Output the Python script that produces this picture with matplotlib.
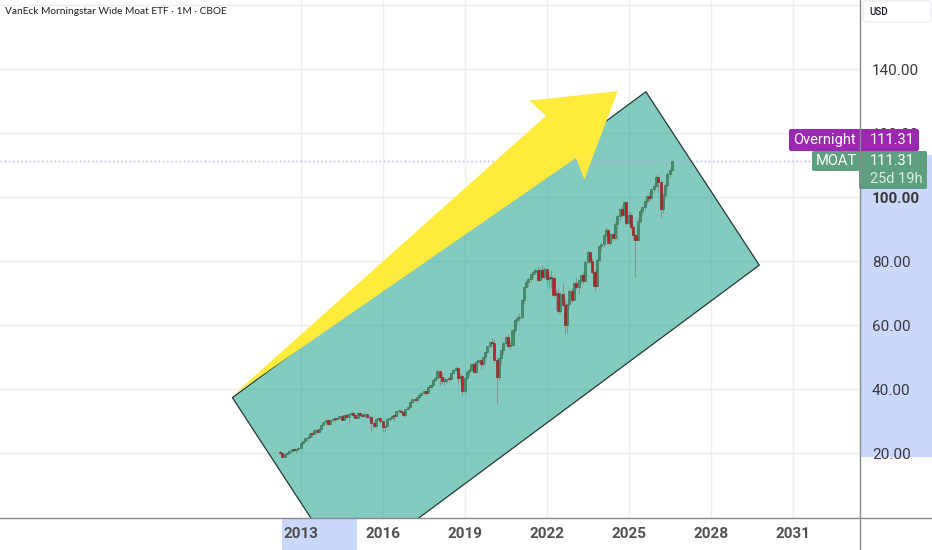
import numpy as np
import pandas as pd
import matplotlib
matplotlib.use("Agg")
import matplotlib.pyplot as plt
from matplotlib.patches import Polygon, Rectangle, FancyBboxPatch
from matplotlib.colors import to_rgba

plt.rcParams['font.family'] = ['Roboto', 'DejaVu Sans']

# monthly candles of MOAT, first bar is April 2012
first_month = "2012-04-01"

opens = [
    20.3, 20.2, 19.0, 19.8, 20.1, 20.7, 21.2, 21.1, 21.3,
    21.7, 23.3, 23.8, 24.7, 25.1, 26.3, 25.9, 27.4, 26.6, 27.7, 28.9, 29.7,
    30.3, 29.3, 30.5, 30.8, 30.7, 31.1, 31.6, 30.5, 31.9, 31.2, 32.2, 32.6,
    32.1, 31.0, 32.7, 31.9, 31.7, 32.2, 31.2, 31.5, 29.5, 28.4, 30.8, 31.0,
    30.0, 28.2, 28.6, 30.7, 31.1, 31.8, 31.6, 33.1, 33.3, 33.0, 31.9, 33.9,
    34.6, 36.0, 36.9, 36.8, 37.6, 38.2, 38.8, 39.4, 39.0, 40.6, 41.4, 43.0,
    43.6, 45.8, 43.8, 42.5, 42.6, 43.2, 43.1, 45.0, 46.0, 46.8, 43.6, 44.2,
    39.6, 43.6, 45.3, 45.9, 48.0, 45.3, 48.6, 49.2, 48.0, 50.2, 51.6, 53.4,
    54.8, 54.4, 49.3, 43.8, 49.8, 52.2, 54.5, 56.4, 53.6, 54.0, 58.6, 61.6,
    62.4, 62.6, 67.9, 72.0, 73.6, 74.4, 76.0, 76.6, 77.4, 74.2, 77.2, 75.0,
    77.6, 74.6, 75.2, 74.8, 69.6, 70.0, 64.4, 69.8, 66.4, 60.2, 66.6, 70.6,
    68.0, 73.2, 72.0, 74.2, 75.6, 74.0, 79.8, 82.9, 80.2, 76.6, 72.4, 80.4,
    84.8, 85.3, 88.1, 89.7, 85.8, 88.4, 87.4, 91.8, 94.2, 96.2, 94.6, 98.4,
    92.0, 94.6, 90.8, 88.2, 86.6, 92.6, 95.8, 96.9, 99.0, 100.4, 99.8, 102.6,
    103.6, 106.4, 104.8, 96.5, 100.6, 103.7, 107.4, 108.5,
]
highs = [
    20.6, 20.4, 19.9, 20.3, 20.8, 21.4, 21.6, 21.4, 21.9,
    23.5, 24.0, 24.8, 25.3, 26.5, 26.8, 27.5, 27.6, 27.9, 29.0, 29.8, 30.4,
    30.6, 30.7, 31.2, 31.0, 31.3, 31.8, 31.9, 32.0, 32.2, 32.3, 32.8, 33.2,
    32.4, 32.9, 32.9, 32.6, 32.5, 32.4, 32.0, 31.8, 30.0, 31.0, 31.4, 31.4,
    30.0, 29.0, 30.8, 31.4, 31.9, 32.1, 33.2, 33.6, 33.7, 33.2, 34.0, 34.8,
    36.2, 37.1, 37.4, 37.9, 38.5, 39.1, 39.6, 39.7, 40.8, 41.6, 43.2, 43.9,
    46.3, 46.0, 45.0, 43.8, 43.6, 44.2, 45.2, 46.2, 47.2, 47.0, 45.0, 44.6,
    43.8, 45.6, 46.2, 48.3, 48.6, 48.9, 49.6, 49.5, 50.4, 51.8, 53.6, 55.0,
    56.0, 55.8, 50.0, 50.2, 52.6, 55.0, 56.8, 57.6, 55.4, 58.9, 61.9, 62.8,
    64.0, 68.2, 72.4, 74.0, 75.0, 76.2, 77.2, 78.0, 78.2, 78.0, 78.8, 78.2,
    77.9, 76.3, 77.3, 75.6, 71.4, 71.6, 70.4, 73.2, 68.0, 67.0, 71.2, 71.8,
    73.6, 75.2, 74.4, 76.0, 76.6, 80.4, 83.4, 83.2, 81.0, 77.4, 80.8, 85.2,
    86.0, 88.4, 90.6, 90.2, 89.0, 89.0, 92.4, 94.6, 96.6, 97.6, 99.0, 98.8,
    95.6, 95.2, 91.6, 89.0, 93.4, 96.2, 97.4, 99.4, 100.8, 101.6, 103.0, 104.2,
    106.9, 107.0, 105.4, 101.2, 104.2, 107.8, 109.2, 111.8,
]
lows = [
    19.9, 18.8, 18.7, 19.4, 19.9, 20.5, 20.8, 20.2, 21.0,
    21.7, 23.0, 23.7, 24.0, 25.0, 25.0, 25.9, 26.4, 26.5, 27.1, 28.7, 29.2,
    29.0, 28.8, 30.2, 29.8, 30.4, 31.0, 30.4, 30.3, 31.0, 29.5, 32.0, 31.5,
    30.6, 30.9, 31.6, 31.5, 31.4, 31.0, 30.5, 27.0, 28.0, 28.2, 30.3, 29.6,
    26.8, 26.6, 28.5, 30.2, 30.6, 30.0, 31.4, 32.7, 32.5, 31.7, 31.3, 33.6,
    34.4, 35.8, 36.2, 36.1, 37.0, 37.8, 38.5, 38.1, 38.9, 40.3, 41.1, 42.7,
    43.4, 41.5, 41.8, 41.5, 42.1, 42.6, 43.0, 44.7, 45.6, 41.8, 42.2, 37.8,
    38.9, 43.3, 44.2, 45.8, 45.0, 45.0, 48.2, 46.5, 47.4, 48.2, 51.4, 53.0,
    53.8, 48.5, 35.3, 42.9, 47.6, 51.0, 53.9, 53.2, 52.6, 53.4, 57.6, 60.8,
    61.2, 62.2, 66.8, 71.6, 72.3, 73.6, 74.8, 75.7, 73.8, 73.9, 74.6, 74.4,
    72.3, 71.6, 71.8, 69.0, 64.8, 63.4, 63.8, 66.0, 57.4, 57.6, 65.8, 67.0,
    67.8, 71.4, 69.8, 73.2, 73.0, 73.8, 79.4, 79.2, 76.0, 70.8, 72.0, 80.0,
    83.2, 84.6, 87.6, 85.4, 85.2, 86.4, 86.8, 86.8, 92.8, 94.0, 94.2, 91.4,
    91.0, 89.8, 86.8, 75.2, 86.2, 92.0, 94.6, 96.0, 97.8, 98.6, 99.2, 101.8,
    103.2, 101.6, 93.9, 95.0, 99.8, 103.0, 106.4, 108.2,
]
closes = [
    20.2, 19.0, 19.8, 20.1, 20.7, 21.2, 21.1, 21.3, 21.7,
    23.3, 23.8, 24.7, 25.1, 26.3, 25.9, 27.4, 26.6, 27.7, 28.9, 29.7, 30.3,
    29.3, 30.5, 30.8, 30.7, 31.1, 31.6, 30.5, 31.9, 31.2, 32.2, 32.6, 32.1,
    31.0, 32.7, 31.9, 31.7, 32.2, 31.2, 31.5, 29.5, 28.4, 30.8, 31.0, 30.0,
    28.2, 28.6, 30.7, 31.1, 31.8, 31.6, 33.1, 33.3, 33.0, 31.9, 33.9, 34.6,
    36.0, 36.9, 36.8, 37.6, 38.2, 38.8, 39.4, 39.0, 40.6, 41.4, 43.0, 43.6,
    45.8, 43.8, 42.5, 42.6, 43.2, 43.1, 45.0, 46.0, 46.8, 43.6, 44.2, 39.6,
    43.6, 45.3, 45.9, 48.0, 45.3, 48.6, 49.2, 48.0, 50.2, 51.6, 53.4, 54.8,
    54.4, 49.3, 43.8, 49.8, 52.2, 54.5, 56.4, 53.6, 54.0, 58.6, 61.6, 62.4,
    62.6, 67.9, 72.0, 73.6, 74.4, 76.0, 76.6, 77.4, 74.2, 77.2, 75.0, 77.6,
    74.6, 75.2, 74.8, 69.6, 70.0, 64.4, 69.8, 66.4, 60.2, 66.6, 70.6, 68.0,
    73.2, 72.0, 74.2, 75.6, 74.0, 79.8, 82.9, 80.2, 76.6, 72.4, 80.4, 84.8,
    85.3, 88.1, 89.7, 85.8, 88.4, 87.4, 91.8, 94.2, 96.2, 94.6, 98.4, 92.0,
    94.6, 90.8, 88.2, 86.6, 92.6, 95.8, 96.9, 99.0, 100.4, 99.8, 102.6, 103.6,
    106.4, 104.8, 96.5, 100.6, 103.7, 107.4, 108.5, 111.31,
]

last_price = "111.31"
countdown = "25d 19h"
ticker = "MOAT"
title = "VanEck Morningstar Wide Moat ETF · 1M · CBOE"

year_ticks = [2013, 2016, 2019, 2022, 2025, 2028, 2031]
price_ticks = [20, 40, 60, 80, 100, 120, 140, 160]

# drawings, anchored in (year, price) like the TradingView tools
channel_x = [2010.50, 2025.63, 2029.78, 2014.66]
channel_y = [37.4, 133.0, 78.8, -17.1]
arrow_x = [2010.53, 2021.98, 2021.36, 2024.60, 2023.38, 2023.07]
arrow_y = [38.2, 125.5, 130.2, 133.2, 105.6, 112.3]

W, H = 932, 550

months = pd.date_range(first_month, periods=len(closes), freq="MS")
xs = np.array(months.year + (months.month - 1) / 12.0)
o = np.array(opens)
h = np.array(highs)
l = np.array(lows)
c = np.array(closes)

fig = plt.figure(figsize=(W / 100, H / 100), dpi=100)

# background layer (blue highlight bands on the scales)
bg = fig.add_axes([0, 0, 1, 1], zorder=0)
bg.set_xlim(0, W)
bg.set_ylim(H, 0)
bg.axis("off")
bg.add_patch(Rectangle((860, 155), 72, 302, facecolor="#c9d8fc", edgecolor="none"))
bg.add_patch(Rectangle((282, 518), 75, 32, facecolor="#c9d8fc", edgecolor="none"))

ax = fig.add_axes([0, 1 - 517.7 / H, 859.5 / W, 517.7 / H], zorder=1)
ax.set_xlim(2001.998, 2033.446)
ax.set_ylim(-0.125, 161.66)
for s in ax.spines.values():
    s.set_visible(False)
ax.set_axisbelow(True)
ax.grid(True, color="#eeeeee", lw=1)

ax.set_xticks(year_ticks)
ax.set_xticklabels([str(y) for y in year_ticks])
ax.tick_params(axis="x", length=0, pad=7, labelsize=11, labelcolor="#505050")
for t in ax.get_xticklabels():
    t.set_fontweight("bold")

ax.yaxis.tick_right()
ax.set_yticks(price_ticks)
ax.set_yticklabels(["%.2f" % p if p < 160 else "" for p in price_ticks])
ax.tick_params(axis="y", length=0, pad=9, labelsize=11, labelcolor="#3a3a3a")
for t in ax.get_yticklabels():
    if t.get_text() == "100.00":
        t.set_fontweight("bold")

# parallel channel
ax.add_patch(Polygon(list(zip(channel_x, channel_y)), closed=True,
                     facecolor=to_rgba("#089981", 0.5), edgecolor="#233b35",
                     lw=0.9, zorder=2))

# last price line
ax.axhline(float(last_price), color="#c0a3df", lw=1, ls=(0, (1, 2)), zorder=3)

# candles
up = c >= o
body_lo = np.minimum(o, c)
body_h = np.maximum(np.abs(c - o), 0.3)
ax.vlines(xs, l, h, color="#7f9a92", lw=0.8, zorder=4)
ax.bar(xs[up], body_h[up], bottom=body_lo[up], width=0.075,
       color="#458d67", edgecolor="#336f51", lw=0.4, zorder=5)
ax.bar(xs[~up], body_h[~up], bottom=body_lo[~up], width=0.075,
       color="#b5232c", edgecolor="#8c1c22", lw=0.4, zorder=5)

# big yellow arrow
ax.add_patch(Polygon(list(zip(arrow_x, arrow_y)), closed=True,
                     facecolor="#ffeb3b", edgecolor="none", zorder=6))

# overlay: scale lines, price labels, title
ov = fig.add_axes([0, 0, 1, 1], zorder=2)
ov.set_xlim(0, W)
ov.set_ylim(H, 0)
ov.axis("off")
ov.patch.set_alpha(0)
ov.plot([859.5, 859.5], [0, H], color="#8a8a8a", lw=1)
ov.plot([0, W], [517.7, 517.7], color="#8a8a8a", lw=1)

ov.add_patch(FancyBboxPatch((863, 1), 68, 21, boxstyle="round,pad=0,rounding_size=3",
                            facecolor="white", edgecolor="#e6e8ee", lw=0.8))
ov.text(869, 12, "USD", fontsize=7, fontweight="medium", color="#131722",
        ha="left", va="center")

ov.text(5, 12, title, fontsize=7.3, color="#1e1e1e", ha="left", va="center",
        family=["Lato", "DejaVu Sans"])

purple = "#9c27b0"
green = "#5d9f7e"
ov.add_patch(FancyBboxPatch((789, 129), 130, 22, boxstyle="round,pad=0,rounding_size=2",
                            facecolor=purple, edgecolor="none"))
ov.text(824, 140, "Overnight", fontsize=10.5, color="white", ha="center", va="center")
ov.text(870, 140, last_price, fontsize=10.5, color="white", ha="left", va="center")

ov.add_patch(FancyBboxPatch((812, 151), 60, 20, boxstyle="round,pad=0,rounding_size=2",
                            facecolor=green, edgecolor="none"))
ov.add_patch(FancyBboxPatch((859, 151), 68, 38, boxstyle="round,pad=0,rounding_size=2",
                            facecolor=green, edgecolor="none"))
ov.text(836, 161, ticker, fontsize=10.5, color="white", ha="center", va="center")
ov.text(870, 161, last_price, fontsize=10.5, color="white", ha="left", va="center")
ov.text(870, 179, countdown, fontsize=10.5, color="#d9efe4", ha="left", va="center")

fig.savefig("out.png", dpi=100)
